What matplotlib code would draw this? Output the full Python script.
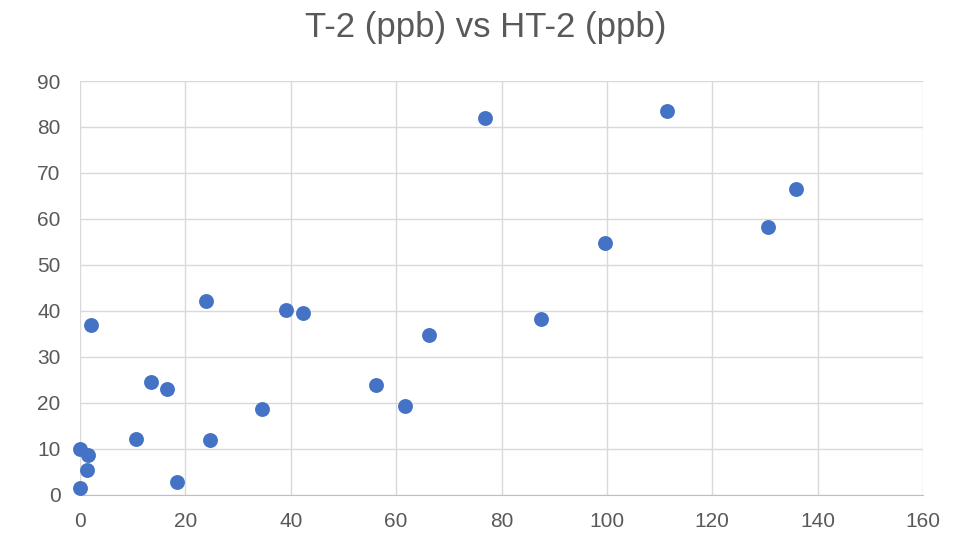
import matplotlib.pyplot as plt
import numpy as np

# T-2 (x) and HT-2 (y) values, ppb
t2 = [0.0, 0.0, 1.6, 1.3, 2.1, 10.6, 13.5, 16.6, 18.5, 24.0, 24.7, 34.5,
      39.1, 42.3, 56.2, 61.6, 66.2, 76.9, 87.5, 99.6, 111.4, 130.6, 135.9]
ht2 = [1.6, 9.9, 8.7, 5.5, 37.0, 12.1, 24.6, 23.0, 2.8, 42.1, 11.9, 18.6,
       40.3, 39.6, 23.9, 19.3, 34.7, 81.9, 38.2, 54.7, 83.5, 58.2, 66.5]

x_ticks = np.arange(0, 161, 20)
y_ticks = np.arange(0, 91, 10)

plt.rcParams['font.family'] = ['Liberation Sans', 'DejaVu Sans']

fig = plt.figure(figsize=(9.72, 5.39), dpi=100)
ax = fig.add_axes([80 / 972, 44 / 539, 843 / 972, 414 / 539])

ax.scatter(t2, ht2, s=115, color='#4472C4', zorder=3, clip_on=False,
           linewidths=0)

ax.set_xlim(0, 160)
ax.set_ylim(0, 90)
ax.set_xticks(x_ticks)
ax.set_yticks(y_ticks)
ax.grid(True, color='#D9D9D9', linewidth=1.0)
ax.set_axisbelow(True)
for side in ['top', 'right', 'left']:
    ax.spines[side].set_visible(False)
ax.spines['bottom'].set_color('#BFBFBF')
ax.tick_params(axis='both', length=0, labelsize=15, labelcolor='#595959')
ax.tick_params(axis='x', pad=12)
ax.tick_params(axis='y', pad=14)

fig.text(0.5, 1 - 28 / 539, 'T-2 (ppb) vs HT-2 (ppb)', ha='center', va='center',
         fontsize=25, color='#595959')

fig.savefig('out.png', dpi=100)
